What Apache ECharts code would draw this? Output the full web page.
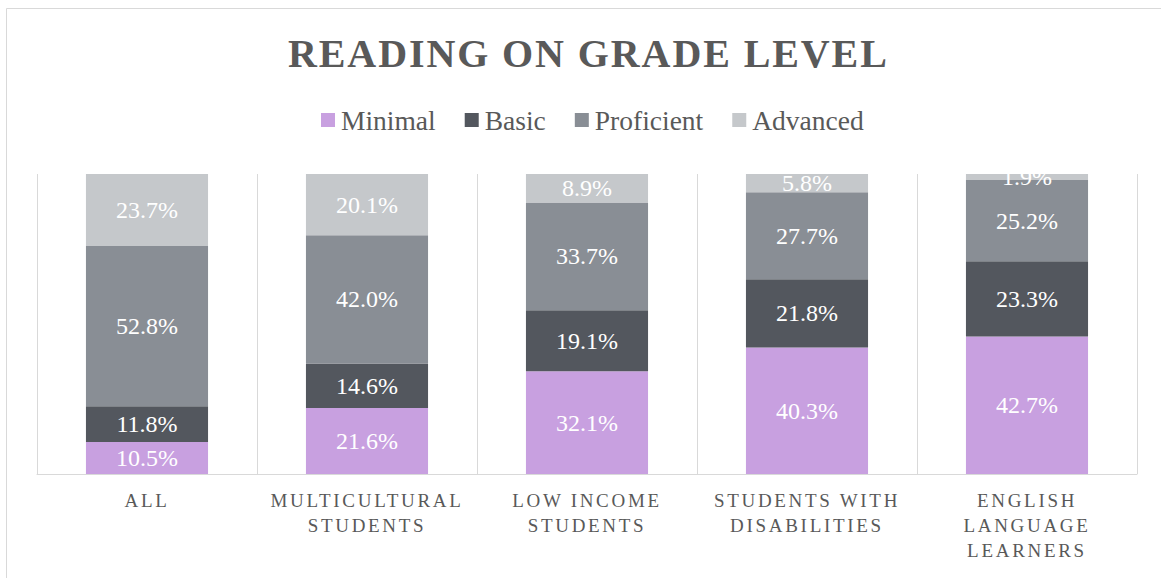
<!DOCTYPE html>
<html>
<head>
<meta charset="utf-8">
<script src="https://cdn.jsdelivr.net/npm/echarts@6/dist/echarts.min.js"></script>
<style>
  html, body { margin: 0; padding: 0; background: #fff; }
  #main { width: 1161px; height: 578px; }
  svg text[style*="19px"] { letter-spacing: 2.7px; }
  svg text[style*="40px"] { letter-spacing: 1.9px; }
</style>
</head>
<body>
<div id="main"></div>
<script>
const categories = ['ALL', 'MULTICULTURAL\nSTUDENTS', 'LOW INCOME\nSTUDENTS', 'STUDENTS WITH\nDISABILITIES', 'ENGLISH\nLANGUAGE\nLEARNERS'];
const seriesNames = ['Minimal', 'Basic', 'Proficient', 'Advanced'];
const minimal = [10.5, 21.6, 32.1, 40.3, 42.7];
const basic = [11.8, 14.6, 19.1, 21.8, 23.3];
const proficient = [52.8, 42.0, 33.7, 27.7, 25.2];
const advanced = [23.7, 20.1, 8.9, 5.8, 1.9];
const colors = ['#C8A0E0', '#53575E', '#898E95', '#C5C8CB'];

const raw = [minimal, basic, proficient, advanced];
const totals = categories.map((c, i) => raw.reduce((s, arr) => s + arr[i], 0));

const chart = echarts.init(document.getElementById('main'), null, { renderer: 'svg' });
const serif = 'Liberation Serif';
chart.setOption({
  animation: false,
  color: colors,
  title: {
    text: 'READING ON GRADE LEVEL',
    left: 283,
    top: 28,
    textStyle: { fontFamily: serif, fontWeight: 'bold', fontSize: 40, lineHeight: 40, color: '#595959' }
  },
  legend: {
    top: 101,
    left: 316,
    icon: 'rect',
    itemWidth: 14,
    itemHeight: 14,
    itemGap: 29,
    textStyle: { fontFamily: serif, fontSize: 27.5, color: '#595959', padding: [0, 0, 0, 1] },
    data: seriesNames
  },
  graphic: [{
    type: 'rect',
    shape: { x: 6.5, y: 8.5, width: 1200, height: 600 },
    style: { fill: 'none', stroke: '#D9D9D9', lineWidth: 1 },
    silent: true
  }],
  grid: { left: 37, right: 24, top: 174, bottom: 104, containLabel: false },
  xAxis: {
    type: 'category',
    data: categories,
    axisTick: { show: false },
    axisLine: { lineStyle: { color: '#D9D9D9', width: 1 } },
    splitLine: { show: true, lineStyle: { color: '#D9D9D9', width: 1 } },
    axisLabel: { interval: 0, fontFamily: serif, fontSize: 19, lineHeight: 25, color: '#595959', margin: 14 }
  },
  yAxis: {
    type: 'value', min: 0, max: 100, show: false
  },
  series: raw.map((arr, k) => ({
    name: seriesNames[k],
    type: 'bar',
    stack: 'total',
    barWidth: '55.5%',
    data: arr.map((v, i) => ({ value: v / totals[i] * 100, raw: v })),
    label: {
      show: true,
      position: 'inside',
      fontFamily: serif,
      fontSize: 24,
      color: '#FFFFFF',
      formatter: p => p.data.raw.toFixed(1) + '%'
    }
  }))
});
</script>
</body>
</html>
